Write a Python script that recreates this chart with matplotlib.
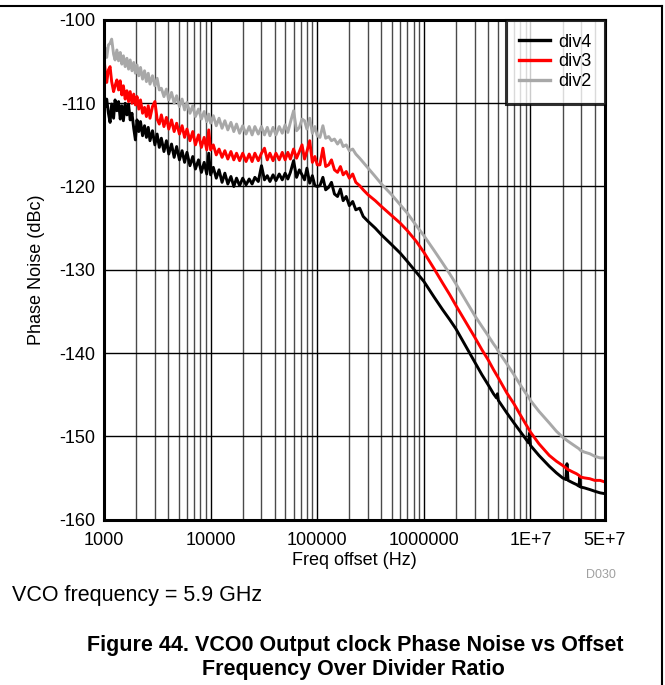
import matplotlib
matplotlib.use("Agg")
import matplotlib.pyplot as plt
from matplotlib.lines import Line2D
from matplotlib.ticker import FixedLocator, NullFormatter

plt.rcParams["font.family"] = ["Liberation Sans", "DejaVu Sans"]

# ── Measured phase noise (dBc/Hz) vs offset frequency ────────────────────────

freq_hz = [
    1000, 1030, 1060, 1100, 1140, 1180, 1230, 1270, 1320, 1370,
    1420, 1470, 1520, 1580, 1640, 1700, 1760, 1830, 1900, 1970,
    2040, 2120, 2200, 2300, 2400, 2500, 2600, 2700, 2850, 3000,
    3150, 3300, 3450, 3650, 3850, 4050, 4300, 4550, 4800, 5100,
    5400, 5700, 6000, 6400, 6800, 7200, 7700, 8200, 8700, 9200,
    9600, 10000, 10600, 11300, 12000, 12800, 13600, 14500, 15500, 16500,
    17500, 18700, 20000, 21500, 23000, 24500, 26000, 28000, 30000, 32000,
    34000, 36000, 38500, 41000, 44000, 47000, 50000, 53000, 56000, 60000,
    64000, 68000, 72000, 76000, 80000, 85000, 90000, 95000, 100000, 106000,
    113000, 120000, 128000, 136000, 145000, 155000, 165000, 175000, 187000, 200000,
    215000, 230000, 250000, 270000, 300000, 350000, 400000, 500000, 600000, 700000,
    850000, 1.0e6, 1.25e6, 1.5e6, 1.75e6, 2.0e6, 2.5e6, 3.0e6, 3.5e6, 4.0e6,
    4.5e6, 4.8e6, 4.9e6, 5.0e6, 6.0e6, 7.0e6, 8.0e6, 9.0e6, 9.6e6, 9.8e6,
    1.0e7, 1.2e7, 1.5e7, 1.75e7, 2.0e7, 2.15e7, 2.2e7, 2.25e7, 2.5e7, 2.7e7,
    2.85e7, 2.9e7, 2.95e7, 3.2e7, 3.6e7, 4.0e7, 4.5e7, 5.0e7,
]

div4 = [
    -108.6, -110.4, -109.5, -111.2, -112.3, -110.1, -111.8, -109.6, -110.9, -109.8,
    -111.9, -110.3, -112.1, -110.0, -111.4, -110.1, -112.0, -111.2, -113.0, -114.4,
    -112.0, -113.4, -112.2, -113.9, -112.7, -114.1, -112.9, -114.5, -113.3, -115.0,
    -113.7, -115.3, -114.2, -115.8, -114.5, -116.1, -114.9, -116.5, -115.2, -116.8,
    -115.7, -117.1, -115.9, -117.5, -116.4, -117.9, -116.8, -118.3, -117.1, -118.5,
    -116.0, -118.6, -117.7, -119.0, -118.0, -119.5, -118.4, -119.7, -118.8, -120.0,
    -119.0, -119.9, -119.0, -119.8, -119.1, -119.7, -118.9, -119.4, -117.5, -119.2,
    -118.7, -119.4, -118.6, -119.3, -118.5, -119.2, -118.4, -119.1, -118.3, -116.9,
    -118.9, -118.0, -118.6, -119.2, -117.8, -119.6, -118.7, -119.9, -120.0, -119.9,
    -118.9, -120.4, -120.1, -119.5, -120.9, -121.2, -120.3, -121.7, -121.2, -122.3,
    -121.8, -122.8, -122.6, -123.6, -124.2, -125.0, -125.8, -127.0, -128.0, -129.0,
    -130.3, -131.4, -133.3, -134.8, -136.0, -137.1, -139.3, -141.1, -142.6, -143.8,
    -144.9, -145.4, -144.9, -145.7, -147.2, -148.4, -149.4, -150.3, -150.8, -149.6,
    -151.1, -152.3, -153.6, -154.4, -155.0, -155.2, -153.3, -155.3, -155.6, -155.8,
    -156.0, -154.9, -156.1, -156.2, -156.4, -156.6, -156.8, -156.9,
]

div3 = [
    -104.6, -106.3, -107.5, -106.0, -105.6, -107.4, -108.6, -107.9, -107.2, -108.4,
    -107.3, -109.0, -107.9, -109.5, -108.5, -109.8, -108.6, -110.0, -108.9, -110.2,
    -109.2, -110.7, -109.6, -111.2, -110.5, -111.6, -110.3, -111.8, -110.4, -109.8,
    -111.9, -112.5, -111.4, -112.8, -111.7, -113.1, -112.0, -113.4, -112.4, -113.7,
    -112.7, -114.1, -113.1, -114.5, -113.4, -115.0, -113.8, -115.3, -114.1, -115.6,
    -113.2, -115.6, -115.0, -116.2, -115.5, -116.5, -115.7, -116.7, -115.8, -116.8,
    -116.0, -116.9, -116.0, -117.0, -116.1, -117.0, -116.0, -116.9, -116.0, -115.4,
    -116.8, -116.0, -116.9, -116.0, -116.8, -115.9, -116.8, -115.9, -116.7, -115.5,
    -116.6, -115.8, -115.0, -116.7, -115.8, -114.5, -117.1, -116.4, -117.4, -117.4,
    -115.4, -117.6, -117.4, -116.8, -118.0, -118.3, -117.6, -118.6, -118.2, -119.0,
    -118.5, -119.5, -119.9, -120.4, -121.0, -121.7, -122.4, -123.5, -124.4, -125.3,
    -126.6, -127.9, -129.9, -131.6, -133.0, -134.3, -136.4, -138.1, -139.6, -140.8,
    -142.0, -142.6, -142.8, -143.0, -144.8, -146.1, -147.4, -148.5, -149.1, -149.3,
    -149.5, -150.9, -152.3, -153.0, -153.5, -153.8, -153.9, -154.0, -154.3, -154.5,
    -154.7, -154.8, -154.9, -155.0, -155.1, -155.3, -155.3, -155.5,
]

div2 = [
    -104.2, -103.4, -104.5, -103.0, -102.8, -102.3, -104.1, -104.8, -103.6, -104.9,
    -103.9, -105.3, -104.3, -105.6, -104.6, -105.9, -104.8, -106.1, -105.1, -106.4,
    -105.4, -106.7, -105.7, -107.1, -106.1, -107.4, -106.4, -107.7, -106.7, -107.9,
    -107.0, -108.4, -108.2, -109.2, -108.3, -109.6, -108.7, -110.0, -109.1, -110.4,
    -109.5, -110.8, -109.9, -111.2, -110.3, -111.6, -110.7, -111.9, -111.0, -112.2,
    -111.3, -112.4, -111.5, -112.7, -111.8, -113.0, -112.1, -113.2, -112.3, -113.4,
    -112.5, -113.6, -112.7, -113.7, -112.8, -113.8, -112.8, -113.7, -112.8, -113.8,
    -112.9, -113.9, -112.9, -113.8, -112.8, -113.6, -112.6, -113.5, -112.3, -110.9,
    -113.3, -112.9, -111.9, -112.1, -113.1, -111.8, -113.6, -112.8, -113.9, -114.1,
    -112.7, -114.2, -114.0, -114.5, -114.3, -114.9, -114.4, -115.2, -115.0, -115.7,
    -115.5, -116.1, -116.6, -117.1, -117.8, -118.8, -119.7, -121.0, -122.2, -123.2,
    -124.7, -125.9, -127.7, -129.2, -130.5, -131.7, -133.8, -135.5, -136.8, -137.9,
    -138.9, -139.4, -139.6, -139.8, -141.3, -142.6, -143.8, -144.8, -145.3, -145.5,
    -145.7, -147.0, -148.4, -149.4, -150.1, -150.4, -150.5, -150.6, -151.0, -151.3,
    -151.5, -151.6, -151.7, -151.9, -152.1, -152.4, -152.6, -152.6,
]

series = [("div4", div4, "#000000"), ("div3", div3, "#FF0000"), ("div2", div2, "#A8A8A8")]

x_ticks = [1e3, 1e4, 1e5, 1e6, 1e7, 5e7]
x_tick_labels = ["1000", "10000", "100000", "1000000", "1E+7", "5E+7"]
y_ticks = [-160, -150, -140, -130, -120, -110, -100]

# ── Figure ───────────────────────────────────────────────────────────────────

W, H = 665, 685
fig = plt.figure(figsize=(W / 100, H / 100), dpi=100)


def fx(px):
    return px / W


def fy(py):
    return 1 - py / H


ax = fig.add_axes([fx(104), fy(519.5), fx(605) - fx(104), fy(20) - fy(519.5)])

# grid lines at every 1-2-...-9 step of each decade
minor = [m * 10 ** d for d in range(3, 8) for m in range(2, 10) if m * 10 ** d < 5e7]
for f in minor:
    ax.axvline(f, color="#4a4a4a", linewidth=1.0, zorder=1)
for f in [1e4, 1e5, 1e6, 1e7]:
    ax.axvline(f, color="#000000", linewidth=1.0, zorder=1)
for v in y_ticks[1:-1]:
    ax.axhline(v, color="#000000", linewidth=1.0, zorder=1)

for name, vals, col in series:
    ax.plot(freq_hz, vals, color=col, linewidth=2.1, label=name, zorder=3)

ax.set_xscale("log")
ax.set_xlim(1e3, 5e7)
ax.set_ylim(-160, -100)
ax.xaxis.set_major_locator(FixedLocator(x_ticks))
ax.xaxis.set_minor_formatter(NullFormatter())
ax.set_xticks(x_ticks)
ax.set_xticklabels(x_tick_labels)
ax.set_yticks(y_ticks)
ax.set_yticklabels([str(v) for v in y_ticks])
ax.tick_params(axis="both", which="both", length=0, labelsize=13)
ax.tick_params(axis="x", pad=9)
ax.tick_params(axis="y", pad=6)
for s in ax.spines.values():
    s.set_linewidth(2.2)
    s.set_zorder(5)

ax.set_xlabel("Freq offset (Hz)", fontsize=13, labelpad=2)
ax.set_ylabel("Phase Noise (dBc)", fontsize=13)
ax.yaxis.set_label_coords(-(104 - 45) / 501, 0.5)

handles = [Line2D([], [], color=c, linewidth=2.4) for _, _, c in series]
leg = ax.legend(handles, [n for n, _, _ in series], loc="upper right",
                fontsize=13, frameon=True, fancybox=False, borderaxespad=0,
                borderpad=0.75, labelspacing=0.15, handlelength=1.7,
                handletextpad=0.45)
leg.get_frame().set_edgecolor("#000000")
leg.get_frame().set_linewidth(2.2)
leg.set_zorder(6)

# ── Surrounding text and frame ───────────────────────────────────────────────

fig.text(fx(616), fy(575), "D030", fontsize=9, color="#A0A0A0", ha="right", va="center")
fig.text(fx(12), fy(596), "VCO frequency = 5.9 GHz", fontsize=15.5, ha="left", va="center")
fig.text(fx(355), fy(645), "Figure 44. VCO0 Output clock Phase Noise vs Offset",
         fontsize=15.5, fontweight="bold", ha="center", va="center")
fig.text(fx(353), fy(670), "Frequency Over Divider Ratio",
         fontsize=15.5, fontweight="bold", ha="center", va="center")

fig.add_artist(Line2D([0, fx(662)], [fy(6), fy(6)], color="#000000", linewidth=1.5))
fig.add_artist(Line2D([fx(662), fx(662)], [fy(6), 0], color="#000000", linewidth=1.5))

fig.savefig("out.png", dpi=100)
